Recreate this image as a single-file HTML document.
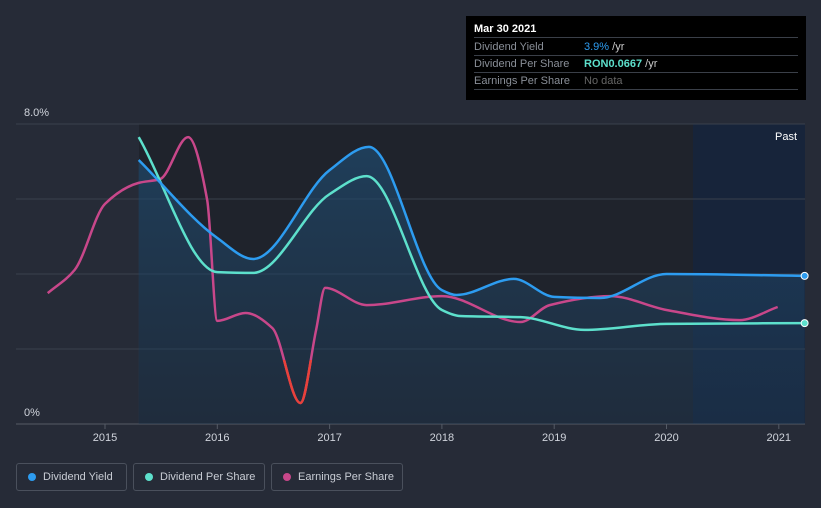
<!DOCTYPE html>
<html><head><meta charset="utf-8"><style>
body{margin:0;background:#262b37;font-family:"Liberation Sans",sans-serif;}
#wrap{position:relative;width:821px;height:508px;overflow:hidden;background:#262b37}
.tt{position:absolute;left:466px;top:16px;width:340px;height:84px;background:#000;color:#fff;font-size:11px}
.tt .r{position:absolute;left:8px;width:324px;border-bottom:1px solid #3a3f48;height:16px;line-height:16px}
.leg{position:absolute;top:463px;height:28px;border:1px solid #4a505c;border-radius:3px;color:#c8ccd4;font-size:11px;line-height:26px;box-sizing:border-box;padding-left:26px;white-space:nowrap}
.leg i{position:absolute;left:11px;top:9px;width:8px;height:8px;border-radius:50%}
</style></head><body>
<div id="wrap">
<svg id="svg" width="821" height="508" style="position:absolute;left:0;top:0">
<defs>
<linearGradient id="fg" x1="0" y1="0" x2="0" y2="1"><stop offset="0" stop-color="#1f4a6e" stop-opacity="0.7"/><stop offset="1" stop-color="#1f3a55" stop-opacity="0.4"/></linearGradient>
<clipPath id="redclip"><rect x="0" y="360" width="821" height="100"/></clipPath>
</defs>
<rect x="139" y="124" width="554" height="300" fill="#1f232c"/>
<rect x="693" y="124" width="112" height="300" fill="#17243a"/>
<g id="grid"></g>
<g id="series"></g>
<text x="24" y="116" fill="#d0d4dc" font-size="11">8.0%</text>
<text x="24" y="416" fill="#d0d4dc" font-size="11">0%</text>
<text x="797" y="140" fill="#fff" font-size="11" text-anchor="end">Past</text>
<g id="xt"></g>
</svg>
<div class="tt">
<div class="r" style="top:5px;font-weight:bold">Mar 30 2021</div>
<div class="r" style="top:23px;color:#8a8f98">Dividend Yield<span style="position:absolute;left:110px;color:#2d9cf0">3.9%<span style="color:#ccc"> /yr</span></span></div>
<div class="r" style="top:40px;color:#8a8f98">Dividend Per Share<span style="position:absolute;left:110px;color:#5de0cc;font-weight:bold">RON0.0667<span style="color:#ccc;font-weight:normal"> /yr</span></span></div>
<div class="r" style="top:57px;color:#8a8f98">Earnings Per Share<span style="position:absolute;left:110px;color:#666">No data</span></div>
</div>
<div class="leg" style="left:16px;width:111px"><i style="background:#2d9cf0"></i>Dividend Yield</div>
<div class="leg" style="left:133px;width:132px"><i style="background:#5de0cc"></i>Dividend Per Share</div>
<div class="leg" style="left:271px;width:132px"><i style="background:#c8478a"></i>Earnings Per Share</div>
</div>
<script>
const yieldT=[2015.30,2016.0,2016.32,2017.0,2017.35,2018.0,2018.13,2018.64,2019.0,2019.41,2020.0,2021.23];
const yieldV=[7.04,4.96,4.4,6.77,7.39,3.57,3.44,3.87,3.39,3.36,4.0,3.95];
const dpsT=[2015.30,2016.0,2016.32,2017.0,2017.33,2018.0,2018.16,2018.70,2019.27,2020.0,2021.23];
const dpsV=[7.65,4.05,4.03,6.13,6.61,3.04,2.88,2.85,2.51,2.67,2.69];
const epsT=[2014.49,2014.73,2015.0,2015.30,2015.49,2015.74,2015.91,2016.0,2016.25,2016.49,2016.74,2016.88,2016.96,2017.33,2018.0,2018.70,2018.96,2019.50,2020.0,2020.65,2020.99];
const epsV=[3.49,4.11,5.87,6.43,6.53,7.65,5.97,2.75,2.96,2.56,0.56,2.51,3.63,3.17,3.41,2.72,3.17,3.41,3.04,2.77,3.12];
const yTicks=[0,2,4,6,8];
const xTicks=[2015,2016,2017,2018,2019,2020,2021];
const X=t=>105+(t-2015)*112.3;
const Y=v=>424-v*37.5;
const NS="http://www.w3.org/2000/svg";
function el(tag,attrs,parent){const e=document.createElementNS(NS,tag);for(const k in attrs)e.setAttribute(k,attrs[k]);parent.appendChild(e);return e;}
function path(T,V){const x=T.map(X),y=V.map(Y),n=x.length;const d=[],m=[];
for(let i=0;i<n-1;i++)d.push((y[i+1]-y[i])/(x[i+1]-x[i]));
for(let i=0;i<n;i++){if(i==0)m.push(d[0]);else if(i==n-1)m.push(d[n-2]);else if(d[i-1]*d[i]<=0)m.push(0);else{const h0=x[i]-x[i-1],h1=x[i+1]-x[i];m.push(3*(h0+h1)/((2*h1+h0)/d[i-1]+(h1+2*h0)/d[i]));}}
let s="M"+x[0]+","+y[0];
for(let i=0;i<n-1;i++){const h=(x[i+1]-x[i])/3;s+=" C"+(x[i]+h)+","+(y[i]+m[i]*h)+" "+(x[i+1]-h)+","+(y[i+1]-m[i+1]*h)+" "+x[i+1]+","+y[i+1];}
return s;}
const grid=document.getElementById('grid');
yTicks.forEach(v=>{const l=el('line',{x1:16,x2:805,y1:Y(v),y2:Y(v),stroke:v==0?'#555b66':'#3a404c','stroke-width':1},grid);

});
const xt=document.getElementById('xt');
xTicks.forEach(t=>{const tx=el('text',{x:X(t),y:441,fill:'#d0d4dc','font-size':11,'text-anchor':'middle'},xt);tx.textContent=t;


const tk=el('line',{x1:X(t),x2:X(t),y1:424,y2:429,stroke:'#555b66'},xt);

});
const s=document.getElementById('series');
const yd=path(yieldT,yieldV);
const area=el('path',{d:yd+" L"+X(yieldT[yieldT.length-1])+",424 L"+X(yieldT[0])+",424 Z",fill:'url(#fg)'},s);


const ep=path(epsT,epsV);
const e1=el('path',{d:ep,fill:'none',stroke:'#c8478a','stroke-width':2.5},s);


const e2=el('path',{d:ep,fill:'none',stroke:'#e8413a','stroke-width':2.5,'clip-path':'url(#redclip)'},s);


const d1=el('path',{d:path(dpsT,dpsV),fill:'none',stroke:'#5de0cc','stroke-width':2.5},s);


const y1=el('path',{d:yd,fill:'none',stroke:'#2d9cf0','stroke-width':2.5},s);


const c1=el('circle',{cx:X(yieldT[yieldT.length-1]),cy:Y(yieldV[yieldV.length-1]),r:3.5,fill:'#2d9cf0',stroke:'#fff','stroke-width':1},s);


const c2=el('circle',{cx:X(dpsT[dpsT.length-1]),cy:Y(dpsV[dpsV.length-1]),r:3.5,fill:'#5de0cc',stroke:'#fff','stroke-width':1},s);


</script>
</body></html>
